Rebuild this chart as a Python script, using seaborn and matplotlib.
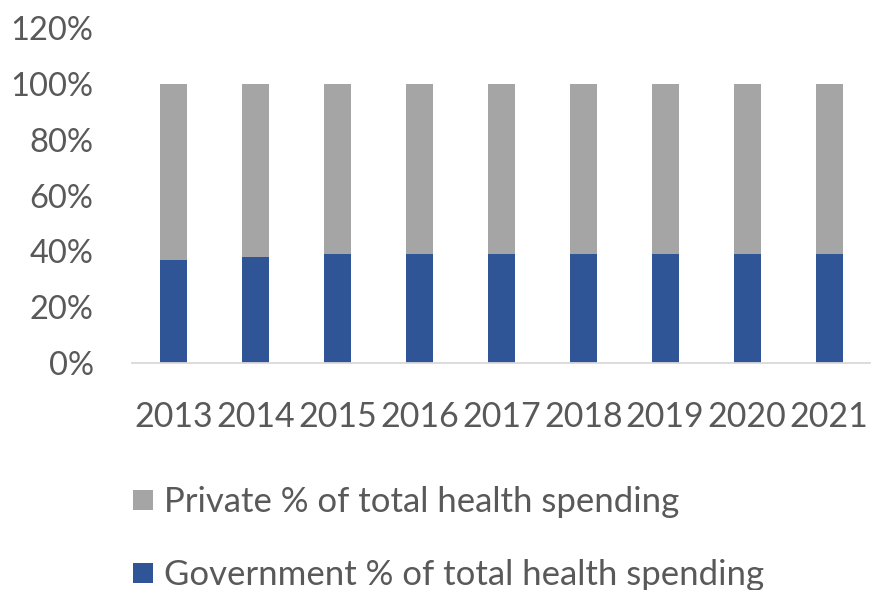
import matplotlib
matplotlib.use("Agg")
import matplotlib.pyplot as plt
from matplotlib.lines import Line2D
from matplotlib.ticker import PercentFormatter
import seaborn as sns
import pandas as pd

years = ["2013", "2014", "2015", "2016", "2017", "2018", "2019", "2020", "2021"]
government = [37, 38, 39, 39, 39, 39, 39, 39, 39]
private = [63, 62, 61, 61, 61, 61, 61, 61, 61]

gov_label = "Government % of total health spending"
priv_label = "Private % of total health spending"
gov_color = "#2F5597"
priv_color = "#A5A5A5"
text_color = "#595959"

sns.set_style("white")
plt.rcParams["font.family"] = ["Lato", "DejaVu Sans"]

df = pd.DataFrame({"year": years, "government": government, "private": private})
df["total"] = df["government"] + df["private"]

fig = plt.figure(figsize=(8.71, 5.90), dpi=100)
ax = fig.add_axes([0.1521, 0.3847, 0.8468, 0.5678])

# Stacked bars: full height in grey, government share drawn over it
sns.barplot(data=df, x="year", y="total", color=priv_color, width=0.33,
            saturation=1, ax=ax, linewidth=0)
sns.barplot(data=df, x="year", y="government", color=gov_color, width=0.33,
            saturation=1, ax=ax, linewidth=0)

ax.set_ylim(0, 120)
ax.set_xlim(-0.5, len(years) - 0.5)
ax.set_yticks(range(0, 121, 20))
ax.yaxis.set_major_formatter(PercentFormatter(decimals=0))
ax.set_xlabel("")
ax.set_ylabel("")

for side in ["top", "right", "left"]:
    ax.spines[side].set_visible(False)
ax.spines["bottom"].set_color("#D9D9D9")
ax.spines["bottom"].set_linewidth(1.3)

ax.tick_params(axis="y", labelsize=23.5, colors=text_color, length=0, pad=28)
ax.tick_params(axis="x", labelsize=24.5, colors=text_color, length=0, pad=27)

handles = [
    Line2D([], [], marker="s", linestyle="none", markersize=14.5,
           markerfacecolor=priv_color, markeredgewidth=0, label=priv_label),
    Line2D([], [], marker="s", linestyle="none", markersize=14.5,
           markerfacecolor=gov_color, markeredgewidth=0, label=gov_label),
]
fig.legend(handles=handles, loc="upper left", bbox_to_anchor=(0.1527, 0.1764),
           frameon=False, fontsize=25, labelcolor=text_color,
           handlelength=0.58, handletextpad=0.32, labelspacing=1.18,
           borderaxespad=0, borderpad=0)

fig.savefig("out.png", dpi=100)
